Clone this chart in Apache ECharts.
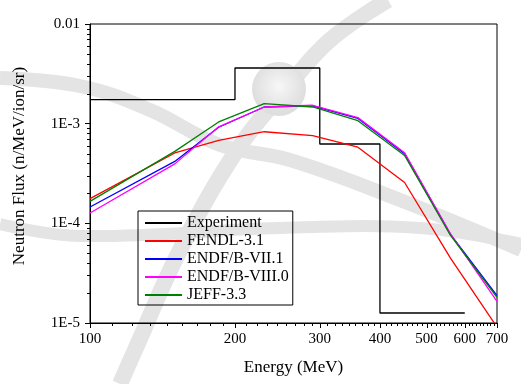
<!DOCTYPE html>
<html>
<head>
<meta charset="utf-8">
<script src="https://cdn.jsdelivr.net/npm/echarts@6/dist/echarts.min.js"></script>
<style>html,body{margin:0;padding:0;background:#fff}#c{width:521px;height:384px}</style>
</head>
<body>
<div id="c"></div>
<script>
// ---- data ----
const energies = [100, 150, 185, 230, 290, 360, 450, 560, 700];
const fendl31  = [1.77e-4, 5.08e-4, 6.8e-4, 8.3e-4, 7.6e-4, 5.8e-4, 2.57e-4, 4.5e-5, 9.1e-6];
const endf71   = [1.46e-4, 4.18e-4, 9.2e-4, 1.47e-3, 1.51e-3, 1.13e-3, 5.0e-4, 7.8e-5, 1.88e-5];
const endf80   = [1.27e-4, 3.95e-4, 9.3e-4, 1.47e-3, 1.53e-3, 1.15e-3, 5.1e-4, 7.9e-5, 1.65e-5];
const jeff33   = [1.66e-4, 5.27e-4, 1.04e-3, 1.59e-3, 1.47e-3, 1.07e-3, 4.8e-4, 7.6e-5, 1.81e-5];
const expEdges = [100, 200, 300, 400, 600];
const expFlux  = [1.74e-3, 3.62e-3, 6.25e-4, 1.26e-5];
const xTickLabels = ['100', '200', '300', '400', '500', '600', '700'];
const yTickLabels = ['1E-5', '1E-4', '1E-3', '0.01'];
const seriesNames = ['Experiment', 'FENDL-3.1', 'ENDF/B-VII.1', 'ENDF/B-VIII.0', 'JEFF-3.3'];

// ---- build ----
const FONT = '"Liberation Serif", "Times New Roman", serif';
const xMajor = xTickLabels.map(Number);
const xMinor = [];
for (let i = 0; i < xMajor.length - 1; i++) {
  const a = xMajor[i], b = xMajor[i + 1];
  for (let k = 1; k < 9; k++) xMinor.push(a + (b - a) * k / 9);
}
const yMinor = [];
for (let e = -5; e < -2; e++) for (let m = 2; m <= 9; m++) yMinor.push(m * Math.pow(10, e));

const yMin = 1e-5, yMax = 1e-2, xMin = 100, xMax = 700;
const expData = expEdges.map((e, i) => [e, expFlux[Math.min(i, expFlux.length - 1)]]);
const pair = arr => energies.map((e, i) => [e, arr[i]]);

const colors = ['#000000', '#ff0000', '#0000ff', '#ff00ff', '#008000'];
const lineData = [expData, pair(fendl31), pair(endf71), pair(endf80), pair(jeff33)];

const series = lineData.map((d, i) => ({
  name: seriesNames[i], type: 'line', data: d, symbol: 'none',
  step: i === 0 ? 'end' : false, clip: true,
  lineStyle: { color: colors[i], width: 1.3 }, itemStyle: { color: colors[i] },
  emphasis: { disabled: true }, z: 2 + i
}));

// x ticks & labels (major + minor), drawn through the axis scale
const xTickData = xMajor.map((v, i) => [v, yMin, 5, xTickLabels[i]])
  .concat(xMinor.map(v => [v, yMin, 3, '']));
series.push({
  type: 'custom', silent: true, clip: false, z: 10,
  data: xTickData,
  renderItem: function (params, api) {
    const p = api.coord([api.value(0), yMin]);
    const len = api.value(2);
    const x = Math.round(p[0]) + 0.5, y = Math.round(p[1]);
    const children = [{
      type: 'line', shape: { x1: x, y1: y, x2: x, y2: y + len },
      style: { stroke: '#000', lineWidth: 1 }
    }];
    const lbl = xTickData[params.dataIndex][3];
    if (lbl) children.push({
      type: 'text', x: p[0], y: y + 9,
      style: { text: lbl, font: '15px ' + FONT, fill: '#000', align: 'center', verticalAlign: 'top' }
    });
    return { type: 'group', children: children };
  }
});
// y minor ticks
series.push({
  type: 'custom', silent: true, clip: false, z: 10,
  data: yMinor.map(v => [xMin, v]),
  renderItem: function (params, api) {
    const p = api.coord([xMin, api.value(1)]);
    const x = Math.round(p[0]), y = Math.round(p[1]) + 0.5;
    return { type: 'line', shape: { x1: x - 3, y1: y, x2: x, y2: y },
      style: { stroke: '#000', lineWidth: 1 } };
  }
});

// faint background watermark (decorative), drawn beneath the grid
const WM = '#e4e4e4';
const band = (pts, w) => ({ type: 'polyline',
  shape: { points: pts, smooth: 0.4 }, style: { stroke: WM, lineWidth: w, fill: null } });
series.push({
  type: 'custom', coordinateSystem: 'none', silent: true, z: -5, data: [0],
  renderItem: function () {
    return { type: 'group', children: [
      band([[0, 78], [80, 86], [150, 110], [220, 145], [290, 160], [400, 200], [521, 250]], 14),
      band([[0, 224], [80, 236], [280, 228], [420, 228], [521, 244]], 12),
      band([[388, 0], [330, 40], [285, 90], [237, 150], [180, 250], [135, 350], [120, 384]], 16),
      { type: 'circle', shape: { cx: 279, cy: 89, r: 27 },
        style: { fill: { type: 'radial', x: 0.5, y: 0.45, r: 0.5,
          colorStops: [{ offset: 0, color: '#f7f7f7' }, { offset: 1, color: '#dedede' }] } } }
    ] };
  }
});

const chart = echarts.init(document.getElementById('c'), null, { renderer: 'canvas' });
chart.setOption({
  animation: false,
  backgroundColor: '#fff',
  grid: { left: 90, top: 24, right: 24, bottom: 61, show: true, borderColor: '#000', borderWidth: 1, backgroundColor: 'transparent', z: 0 },
  legend: {
    data: seriesNames, orient: 'vertical', left: 138, top: 211,
    itemWidth: 37, itemHeight: 14, itemGap: 2, padding: [4, 4, 2, 6],
    itemStyle: { opacity: 0 },
    borderColor: '#000', borderWidth: 1, backgroundColor: 'transparent',
    textStyle: { fontFamily: FONT, fontSize: 16, color: '#000' },
    selectedMode: false
  },
  xAxis: {
    type: 'log', min: xMin, max: xMax, logBase: 10,
    name: 'Energy (MeV)', nameLocation: 'middle', nameGap: 36,
    nameTextStyle: { fontFamily: FONT, fontSize: 17, color: '#000' },
    axisLine: { lineStyle: { color: '#000', width: 1 } },
    axisTick: { show: false }, axisLabel: { show: false }, splitLine: { show: false }, minorTick: { show: false }
  },
  yAxis: {
    type: 'log', min: yMin, max: yMax, logBase: 10,
    name: 'Neutron Flux (n/MeV/ion/sr)', nameLocation: 'middle', nameGap: 62,
    nameTextStyle: { fontFamily: FONT, fontSize: 17, color: '#000', padding: [0, 0, 0, 15] },
    axisLine: { lineStyle: { color: '#000', width: 1 } },
    axisTick: { show: true, inside: false, length: 5, lineStyle: { color: '#000' } },
    axisLabel: { fontFamily: FONT, fontSize: 15, color: '#000', margin: 10,
      formatter: (v, i) => yTickLabels[i] },
    splitLine: { show: false }
  },
  series: series
});
</script>
</body>
</html>
